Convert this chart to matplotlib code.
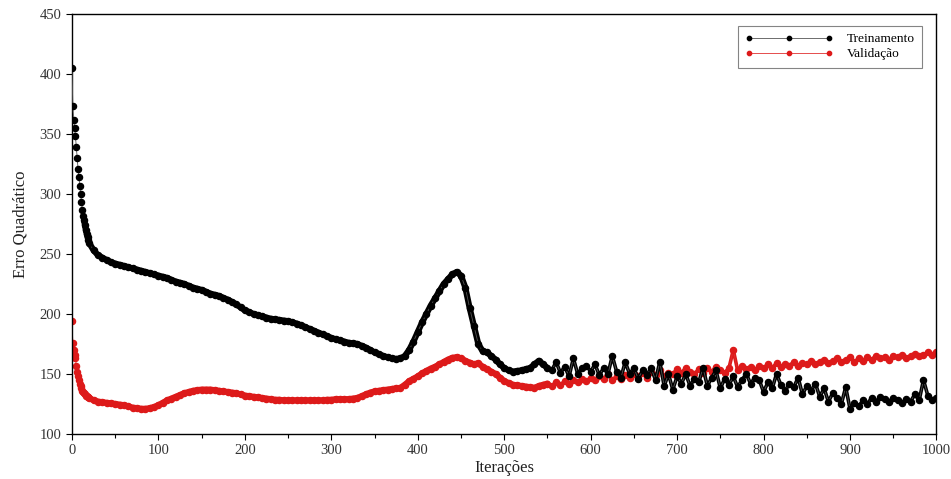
import matplotlib.pyplot as plt
from matplotlib.ticker import MultipleLocator

# ---------- data ----------

iters = list(range(0, 20)) + list(range(20, 1001, 5))

treinamento = [
    405, 373, 362, 355, 348, 339, 330, 321, 314, 307,
    300, 293, 287, 282, 278, 274, 270, 267, 264, 262,
    # from 20, step 5
    259, 253, 249, 247, 245, 243, 242, 241, 240, 239,
    238, 237, 236, 235, 234, 233, 232, 231, 230, 228.5,
    227, 226, 225, 223.5, 222, 221, 220, 218.5, 217, 216,
    215, 213.5, 212, 210, 208, 205.5, 203, 201.5, 200, 199,
    198, 197, 196, 195.5, 195, 194.5, 194, 193, 192, 190.5,
    189, 187.5, 186, 184.5, 183, 181.5, 180, 179, 178, 177,
    176, 175.5, 175, 173.5, 172, 170, 168, 166.5, 165, 164,
    163, 162.5, 163, 165, 170, 177, 185, 193, 200, 207,
    213, 219, 225, 229, 233, 235, 232, 222, 205, 190,
    175, 169, 168, 165, 162, 158, 155, 153, 152, 152.5,
    153, 154, 155, 158, 161, 158, 155, 153, 160, 151,
    156, 148, 163, 150, 155, 157, 152, 158, 149, 155,
    150, 165, 152, 147, 160, 150, 155, 146, 153, 149,
    155, 145, 160, 140, 150, 137, 148, 142, 150, 140,
    146, 143, 155, 140, 147, 153, 138, 146, 141, 148,
    139, 145, 150, 142, 147, 145, 135, 143, 138, 150,
    141, 136, 142, 139, 147, 133, 140, 136, 142, 131,
    138, 127, 134, 130, 125, 139, 121, 126, 123, 128,
    125, 130, 127, 131, 129, 127, 130, 128, 126, 129,
    127, 133, 128, 145, 132, 128, 130,
]

validacao = [
    194, 176, 170, 166, 163, 157, 152, 148, 145, 142,
    140, 138, 136, 135, 134, 133, 132, 131.5, 131, 130.5,
    # from 20, step 5
    130, 128, 127, 126.5, 126, 125.5, 125, 124.5, 124, 123,
    122, 121.5, 121, 121, 121.5, 122.5, 124, 126, 128, 129.5,
    131, 132.5, 134, 135, 136, 136.5, 137, 137, 137, 136.5,
    136, 135.5, 135, 134.5, 134, 133, 132, 131.5, 131, 130.5,
    130, 129.5, 129, 128.5, 128.5, 128, 128, 128, 128, 128,
    128, 128, 128, 128, 128, 128.5, 128.5, 129, 129, 129,
    129, 129.5, 130, 131.5, 133, 134.5, 135.5, 136, 136.5, 137,
    137.5, 138, 138.5, 141, 144, 146, 148, 150.5, 152.5, 154.5,
    156, 158, 160, 162, 163.5, 164, 163, 161, 159.5, 158,
    159, 156, 154, 152, 150, 147, 144, 142.5, 141, 140.5,
    140, 139.5, 139, 138.5, 140, 141, 142, 140, 143, 141,
    144, 142, 145, 143, 146, 144, 147, 145, 148, 146,
    150, 145, 148, 146, 149, 147, 150, 148, 151, 147,
    152, 149, 153, 148, 151, 150, 154, 151, 155, 152,
    150, 154, 151, 155, 152, 156, 153, 151, 155, 170,
    153, 157, 154, 156, 153, 157, 155, 158, 155, 159,
    156, 158, 157, 160, 157, 159, 158, 161, 158, 160,
    162, 159, 161, 163, 160, 162, 164, 160, 163, 161,
    164, 162, 165, 163, 164, 162, 165, 164, 166, 163,
    165, 167, 165, 166, 168, 166, 168,
]

labels = ["Treinamento", "Validação"]

BLACK = "black"
RED = "#dd1a1a"

# ---------- plot ----------

plt.rcParams["font.family"] = ["Liberation Serif", "DejaVu Serif"]

fig = plt.figure(figsize=(9.51, 4.79), dpi=100)
ax = fig.add_axes([0.0757, 0.094, 0.909, 0.877])

# the original has a marker per iteration, which merges into a thick band
smooth = slice(14, 127)
noisy = slice(126, None)
for part, lw in ((smooth, 4.4), (noisy, 2.6)):
    ax.plot(iters[part], treinamento[part], color=BLACK, lw=lw,
            solid_capstyle="round", solid_joinstyle="round", zorder=3)
    ax.plot(iters[part], validacao[part], color=RED, lw=lw,
            solid_capstyle="round", solid_joinstyle="round", zorder=2)

ax.plot(iters, treinamento, color="#555555", lw=0.6, marker="o", ms=4.4,
        mfc=BLACK, mec=BLACK, label=labels[0], zorder=3)
ax.plot(iters, validacao, color="#e03030", lw=0.6, marker="o", ms=4.4,
        mfc=RED, mec=RED, label=labels[1], zorder=2)

ax.set_xlim(0, 1000)
ax.set_ylim(100, 450)
ax.xaxis.set_major_locator(MultipleLocator(100))
ax.xaxis.set_minor_locator(MultipleLocator(50))
ax.yaxis.set_major_locator(MultipleLocator(50))
ax.tick_params(which="both", direction="out", top=False, right=False,
               labelsize=10.5, labelcolor="#333333")
ax.tick_params(which="major", length=4, width=0.8)
ax.tick_params(which="minor", length=3, width=0.8)

for s in ax.spines.values():
    s.set_linewidth(1.0)

ax.set_xlabel("Iterações", fontsize=12, labelpad=2, color="#222222")
ax.set_ylabel("Erro Quadrático", fontsize=12, labelpad=8, color="#222222")

leg = ax.legend(loc="upper right", bbox_to_anchor=(0.983, 0.972),
                numpoints=3, handlelength=6.6, handletextpad=1.0,
                fontsize=9.6, labelspacing=0.2, fancybox=False,
                borderpad=0.55, borderaxespad=0, markerscale=0.7)
leg.get_frame().set_edgecolor("#666666")
leg.get_frame().set_linewidth(0.8)

fig.savefig("out.png", dpi=100)
